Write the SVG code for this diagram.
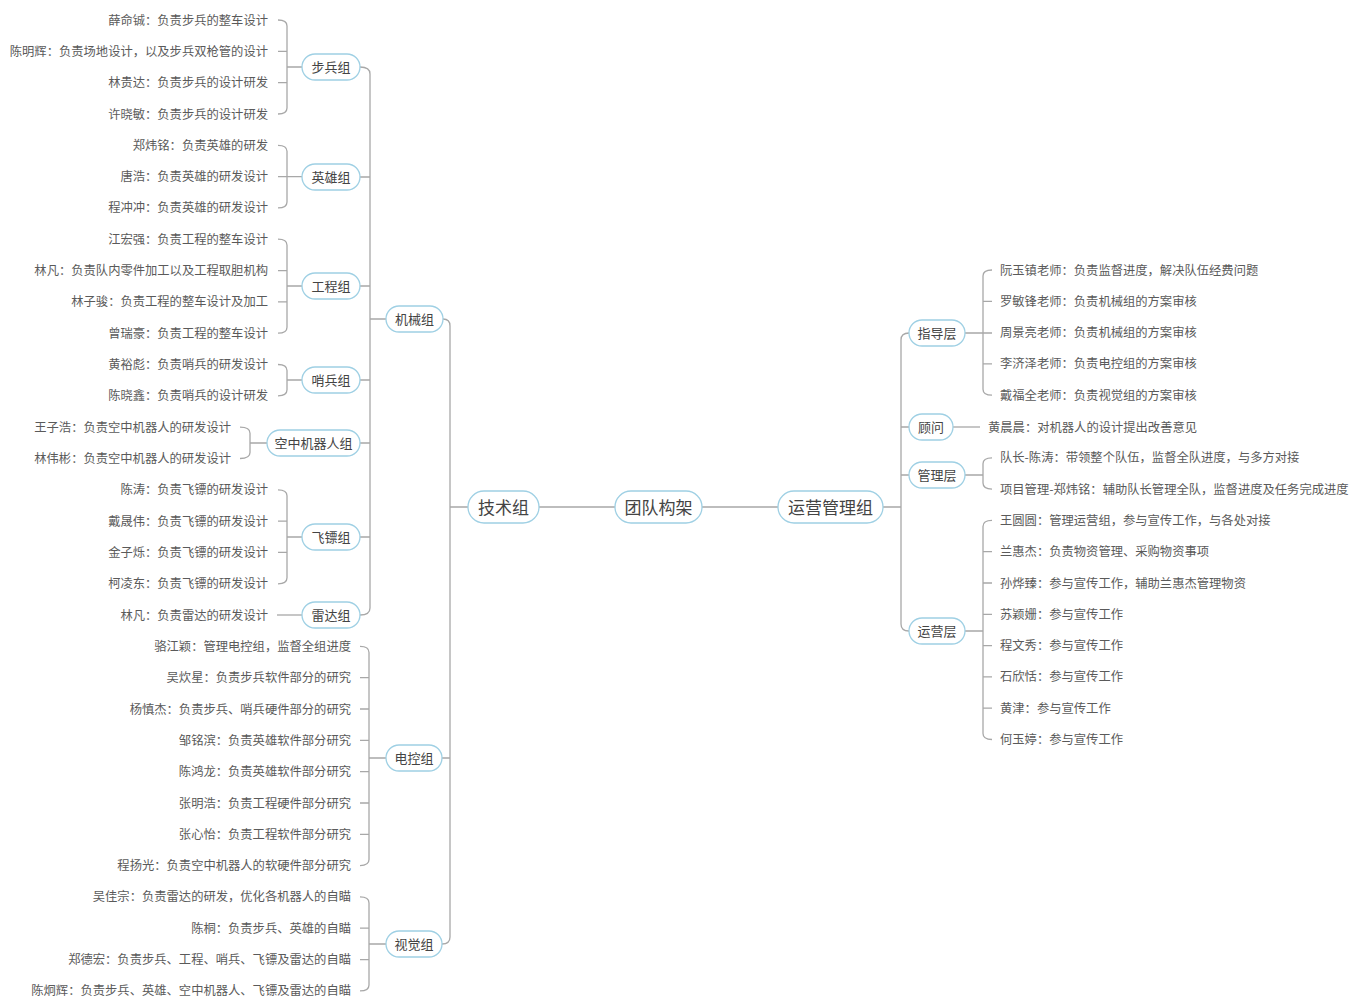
<svg xmlns="http://www.w3.org/2000/svg" width="1352" height="997" viewBox="0 0 1352 997">
<style>
  text { font-family: "Microsoft YaHei", "Noto Sans CJK SC", "Noto Sans", sans-serif; dominant-baseline: central; }
  .l { font-size: 12.3px; fill: #5a5a5a; text-anchor: end; }
  .r { font-size: 12.3px; fill: #5a5a5a; text-anchor: start; }
  .p { fill: #ffffff; stroke: #9fd0e4; stroke-width: 1.3; }
  .pt { font-size: 13px; fill: #444444; text-anchor: middle; }
  .bt { font-size: 17px; fill: #444444; text-anchor: middle; }
  .c { fill: none; stroke: #a8a8a8; stroke-width: 1.3; }
</style>
<rect width="1352" height="997" fill="#ffffff"/>

<!-- connectors -->
<g id="connectors" class="c">
  <!-- root to main branches -->
  <path d="M539 507 H615 M702 507 H778"/>
  <!-- 技术组 spine -->
  <path d="M468 507 H450 M443 319 Q450 319 450 326 V937 Q450 944 442 944 M442 758 H450"/>
  <!-- 机械组 spine -->
  <path d="M386 319 H370 M360 67 Q370 67 370 74 V608 Q370 615 360 615 M360 177 H370 M360 286 H370 M360 380 H370 M360 443 H370 M360 537 H370"/>
  <!-- 步兵组 -->
  <path d="M278 20 Q287 20 287 26 V108 Q287 114 278 114 M278 51.3 H287 M278 82.6 H287 M287 67 H302"/>
  <!-- 英雄组 -->
  <path d="M278 145.3 Q287 145.3 287 151.3 V201.9 Q287 207.9 278 207.9 M278 176.6 H302"/>
  <!-- 工程组 -->
  <path d="M278 239.2 Q287 239.2 287 245.2 V327.2 Q287 333.2 278 333.2 M278 270.6 H287 M278 301.9 H287 M287 286 H302"/>
  <!-- 哨兵组 -->
  <path d="M278 364.5 Q287 364.5 287 370.5 V389.8 Q287 395.8 278 395.8 M287 380 H302"/>
  <!-- 空中机器人组 -->
  <path d="M240 427.2 Q250 427.2 250 433.2 V452.5 Q250 458.5 240 458.5 M250 443 H267"/>
  <!-- 飞镖组 -->
  <path d="M278 489.8 Q287 489.8 287 495.8 V577.8 Q287 583.8 278 583.8 M278 521.1 H287 M278 552.4 H287 M287 537 H302"/>
  <!-- 雷达组 -->
  <path d="M277 615 H302"/>
  <!-- 电控组 -->
  <path d="M360 646.4 Q369 646.4 369 652.4 V859.6 Q369 865.6 360 865.6 M360 677.7 H369 M360 709 H369 M360 740.3 H369 M360 771.7 H369 M360 803 H369 M360 834.3 H369 M369 758 H386"/>
  <!-- 视觉组 -->
  <path d="M360 896.9 Q369 896.9 369 902.9 V984.9 Q369 990.9 360 990.9 M360 928.2 H369 M360 959.6 H369 M369 944 H386"/>
  <!-- 运营管理组 spine -->
  <path d="M883 507 H901 M909 333 Q901 333 901 340 V624 Q901 631 909 631 M901 427 H909 M901 475 H909"/>
  <!-- 指导层 -->
  <path d="M992 270 Q983 270 983 276 V389.2 Q983 395.2 992 395.2 M992 301.3 H983 M992 363.9 H983 M965 333 H992"/>
  <!-- 顾问 -->
  <path d="M953 427 H980"/>
  <!-- 管理层 -->
  <path d="M992 457.8 Q983 457.8 983 463.8 V483.1 Q983 489.1 992 489.1 M965 475 H983"/>
  <!-- 运营层 -->
  <path d="M992 520.4 Q983 520.4 983 526.4 V733.5 Q983 739.5 992 739.5 M992 551.7 H983 M992 583 H983 M992 614.3 H983 M992 645.6 H983 M992 676.9 H983 M992 708.2 H983 M965 631 H983"/>
</g>

<!-- central and main branches -->
<g id="root"><rect class="p" x="615" y="491" width="87" height="32" rx="16"/><text class="bt" x="658.5" y="506">团队构架</text></g>
<g id="tech"><rect class="p" x="468" y="491" width="71" height="32" rx="16"/><text class="bt" x="503.5" y="506">技术组</text></g>
<g id="ops"><rect class="p" x="778" y="491" width="105" height="32" rx="16"/><text class="bt" x="830.5" y="506">运营管理组</text></g>

<!-- technical sub-branches -->
<g id="mech"><rect class="p" x="386" y="306" width="57" height="26" rx="13"/><text class="pt" x="414.5" y="318">机械组</text></g>
<g id="elec"><rect class="p" x="386" y="745" width="56" height="26" rx="13"/><text class="pt" x="414" y="757">电控组</text></g>
<g id="vision"><rect class="p" x="386" y="931" width="56" height="26" rx="13"/><text class="pt" x="414" y="943">视觉组</text></g>

<g id="infantry"><rect class="p" x="302" y="54" width="58" height="26" rx="13"/><text class="pt" x="331" y="66">步兵组</text></g>
<g id="hero"><rect class="p" x="302" y="164" width="58" height="26" rx="13"/><text class="pt" x="331" y="176">英雄组</text></g>
<g id="engineer"><rect class="p" x="302" y="273" width="58" height="26" rx="13"/><text class="pt" x="331" y="285">工程组</text></g>
<g id="sentry"><rect class="p" x="302" y="367" width="58" height="26" rx="13"/><text class="pt" x="331" y="379">哨兵组</text></g>
<g id="aerial"><rect class="p" x="267" y="430" width="93" height="26" rx="13"/><text class="pt" x="313.5" y="442">空中机器人组</text></g>
<g id="dart"><rect class="p" x="302" y="524" width="58" height="26" rx="13"/><text class="pt" x="331" y="536">飞镖组</text></g>
<g id="radar"><rect class="p" x="302" y="602" width="58" height="26" rx="13"/><text class="pt" x="331" y="614">雷达组</text></g>

<!-- operations sub-branches -->
<g id="guide"><rect class="p" x="909" y="320" width="56" height="26" rx="13"/><text class="pt" x="937" y="332">指导层</text></g>
<g id="advisor"><rect class="p" x="909" y="414" width="44" height="26" rx="13"/><text class="pt" x="931" y="426">顾问</text></g>
<g id="manage"><rect class="p" x="909" y="462" width="56" height="26" rx="13"/><text class="pt" x="937" y="474">管理层</text></g>
<g id="operate"><rect class="p" x="909" y="618" width="56" height="26" rx="13"/><text class="pt" x="937" y="630">运营层</text></g>

<!-- technical members -->
<g id="m01"><text class="l" x="268" y="19.5">薛命铖：负责步兵的整车设计</text></g>
<g id="m02"><text class="l" x="268" y="50.8">陈明辉：负责场地设计，以及步兵双枪管的设计</text></g>
<g id="m03"><text class="l" x="268" y="82.1">林贵达：负责步兵的设计研发</text></g>
<g id="m04"><text class="l" x="268" y="113.5">许晓敏：负责步兵的设计研发</text></g>
<g id="m05"><text class="l" x="268" y="144.8">郑炜铭：负责英雄的研发</text></g>
<g id="m06"><text class="l" x="268" y="176.1">唐浩：负责英雄的研发设计</text></g>
<g id="m07"><text class="l" x="268" y="207.4">程冲冲：负责英雄的研发设计</text></g>
<g id="m08"><text class="l" x="268" y="238.7">江宏强：负责工程的整车设计</text></g>
<g id="m09"><text class="l" x="268" y="270.1">林凡：负责队内零件加工以及工程取胆机构</text></g>
<g id="m10"><text class="l" x="268" y="301.4">林子骏：负责工程的整车设计及加工</text></g>
<g id="m11"><text class="l" x="268" y="332.7">曾瑞豪：负责工程的整车设计</text></g>
<g id="m12"><text class="l" x="268" y="364">黄裕彪：负责哨兵的研发设计</text></g>
<g id="m13"><text class="l" x="268" y="395.3">陈晓鑫：负责哨兵的设计研发</text></g>
<g id="m14"><text class="l" x="231" y="426.7">王子浩：负责空中机器人的研发设计</text></g>
<g id="m15"><text class="l" x="231" y="458">林伟彬：负责空中机器人的研发设计</text></g>
<g id="m16"><text class="l" x="268" y="489.3">陈涛：负责飞镖的研发设计</text></g>
<g id="m17"><text class="l" x="268" y="520.6">戴晟伟：负责飞镖的研发设计</text></g>
<g id="m18"><text class="l" x="268" y="551.9">金子烁：负责飞镖的研发设计</text></g>
<g id="m19"><text class="l" x="268" y="583.3">柯凌东：负责飞镖的研发设计</text></g>
<g id="m20"><text class="l" x="268" y="614.5">林凡：负责雷达的研发设计</text></g>
<g id="m21"><text class="l" x="351" y="645.9">骆江颖：管理电控组，监督全组进度</text></g>
<g id="m22"><text class="l" x="351" y="677.2">吴炊星：负责步兵软件部分的研究</text></g>
<g id="m23"><text class="l" x="351" y="708.5">杨慎杰：负责步兵、哨兵硬件部分的研究</text></g>
<g id="m24"><text class="l" x="351" y="739.8">邹铭滨：负责英雄软件部分研究</text></g>
<g id="m25"><text class="l" x="351" y="771.2">陈鸿龙：负责英雄软件部分研究</text></g>
<g id="m26"><text class="l" x="351" y="802.5">张明浩：负责工程硬件部分研究</text></g>
<g id="m27"><text class="l" x="351" y="833.8">张心怡：负责工程软件部分研究</text></g>
<g id="m28"><text class="l" x="351" y="865.1">程扬光：负责空中机器人的软硬件部分研究</text></g>
<g id="m29"><text class="l" x="351" y="896.4">吴佳宗：负责雷达的研发，优化各机器人的自瞄</text></g>
<g id="m30"><text class="l" x="351" y="927.7">陈桐：负责步兵、英雄的自瞄</text></g>
<g id="m31"><text class="l" x="351" y="959.1">郑德宏：负责步兵、工程、哨兵、飞镖及雷达的自瞄</text></g>
<g id="m32"><text class="l" x="351" y="989.5">陈炯辉：负责步兵、英雄、空中机器人、飞镖及雷达的自瞄</text></g>

<!-- operations members -->
<g id="o01"><text class="r" x="1000" y="269.5">阮玉镇老师：负责监督进度，解决队伍经费问题</text></g>
<g id="o02"><text class="r" x="1000" y="300.8">罗敏锋老师：负责机械组的方案审核</text></g>
<g id="o03"><text class="r" x="1000" y="332.1">周景亮老师：负责机械组的方案审核</text></g>
<g id="o04"><text class="r" x="1000" y="363.4">李济泽老师：负责电控组的方案审核</text></g>
<g id="o05"><text class="r" x="1000" y="394.7">戴福全老师：负责视觉组的方案审核</text></g>
<g id="o06"><text class="r" x="988" y="426.5">黄晨晨：对机器人的设计提出改善意见</text></g>
<g id="o07"><text class="r" x="1000" y="457.3">队长-陈涛：带领整个队伍，监督全队进度，与多方对接</text></g>
<g id="o08"><text class="r" x="1000" y="488.6">项目管理-郑炜铭：辅助队长管理全队，监督进度及任务完成进度</text></g>
<g id="o09"><text class="r" x="1000" y="519.9">王圆圆：管理运营组，参与宣传工作，与各处对接</text></g>
<g id="o10"><text class="r" x="1000" y="551.2">兰惠杰：负责物资管理、采购物资事项</text></g>
<g id="o11"><text class="r" x="1000" y="582.5">孙烨臻：参与宣传工作，辅助兰惠杰管理物资</text></g>
<g id="o12"><text class="r" x="1000" y="613.8">苏颖姗：参与宣传工作</text></g>
<g id="o13"><text class="r" x="1000" y="645.1">程文秀：参与宣传工作</text></g>
<g id="o14"><text class="r" x="1000" y="676.4">石欣恬：参与宣传工作</text></g>
<g id="o15"><text class="r" x="1000" y="707.7">黄津：参与宣传工作</text></g>
<g id="o16"><text class="r" x="1000" y="739">何玉婷：参与宣传工作</text></g>
</svg>
